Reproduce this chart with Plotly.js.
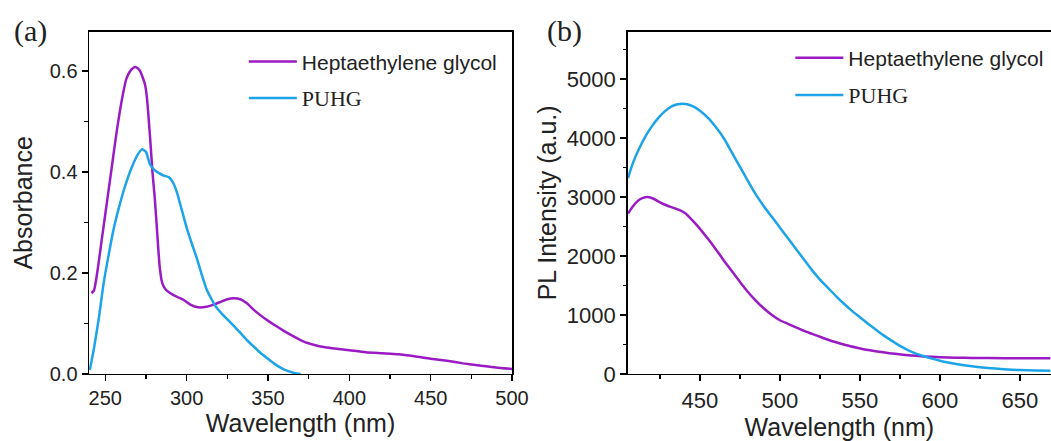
<!DOCTYPE html>
<html>
<head>
<meta charset="utf-8">
<script src="https://cdn.plot.ly/plotly-3.0.1.min.js"></script>
<style>html,body{margin:0;padding:0;background:#fff;}#chart{width:1051px;height:441px;}</style>
</head>
<body>
<div id="chart"></div>
<script>
// ---- Panel (a): UV-vis absorbance ----
const absHgX = [241.5,243,245,248,251,254,257,260,263,266,268.5,271,274.3,275.5,277.5,279,280.5,282,283.5,285,287,290,294,298,302,307,312,317,321,325,329,333,337,342,348,354,360,366,372,378,385,392,400,410,420,430,440,450,460,470,480,490,500];
const absHgY = [0.16,0.165,0.2,0.27,0.34,0.41,0.48,0.54,0.585,0.603,0.608,0.602,0.575,0.55,0.47,0.40,0.345,0.275,0.21,0.18,0.168,0.16,0.153,0.147,0.138,0.132,0.133,0.138,0.143,0.148,0.150,0.148,0.14,0.125,0.110,0.097,0.085,0.074,0.064,0.058,0.053,0.05,0.047,0.043,0.041,0.039,0.035,0.030,0.026,0.021,0.017,0.013,0.010];
const absPuX = [240.5,243,246,249,252,255,258,261,264,267,270,272.5,275,277.5,280,283,286,289,291.5,294,297,300,303,306,309,312,315,318,322,326,330,334,338,342,346,350,354,358,362,366,370];
const absPuY = [0.008,0.05,0.11,0.18,0.235,0.285,0.325,0.36,0.39,0.415,0.435,0.445,0.44,0.415,0.405,0.398,0.393,0.39,0.38,0.36,0.325,0.29,0.26,0.232,0.2,0.17,0.15,0.133,0.118,0.105,0.092,0.078,0.064,0.052,0.04,0.03,0.02,0.012,0.006,0.002,0.0];

// ---- Panel (b): PL intensity ----
const plHgX = [405,408,411,414,417.5,421,425,429,433,437,441,445,450,455,460,465,470,475,480,485,490,495,500,505,510,515,520,527,534,541,548,555,562,570,580,590,600,610,620,640,669];
const plHgY = [2720,2840,2930,2980,3000,2970,2910,2860,2820,2780,2720,2610,2460,2290,2110,1920,1740,1560,1390,1240,1110,1000,910,850,790,730,680,610,545,490,445,405,375,345,318,298,285,276,272,268,266];
const plPuX = [405,408,412,416,420,424,428,432,436,439,442,446,450,455,460,465,470,475,480,485,490,495,500,505,510,515,520,525,530,535,540,545,550,555,560,565,570,575,580,585,590,595,600,605,610,620,630,640,650,660,669];
const plPuY = [3320,3570,3820,4030,4200,4340,4450,4530,4570,4580,4570,4530,4460,4340,4180,3990,3750,3510,3270,3040,2840,2660,2480,2300,2120,1940,1760,1600,1460,1320,1190,1070,960,850,750,650,560,475,405,345,300,260,225,195,170,130,100,80,66,58,55];

const seriesNames = ['Heptaethylene glycol', 'PUHG'];
const panelLabels = ['(a)', '(b)'];

const cHg = '#9a1bc4';
const cPu = '#1ca3e8';
const sans = 'Liberation Sans, Arial, sans-serif';
const serif = 'Liberation Serif, Times New Roman, serif';
const txt = '#222';

const nameHg = seriesNames[0];
const namePu = '<span style="font-family:Liberation Serif, serif;font-size:22px">' + seriesNames[1] + '</span>';

const traces = [
  {x: absHgX, y: absHgY, xaxis: 'x', yaxis: 'y', mode: 'lines', name: nameHg, legendgroup: 'a1', legend: 'legend', line: {color: cHg, width: 2.5, shape: 'spline', smoothing: 0.6}},
  {x: absPuX, y: absPuY, xaxis: 'x', yaxis: 'y', mode: 'lines', name: namePu, legendgroup: 'a2', legend: 'legend', line: {color: cPu, width: 2.5, shape: 'spline', smoothing: 0.6}},
  {x: plHgX, y: plHgY, xaxis: 'x2', yaxis: 'y2', mode: 'lines', name: nameHg, legendgroup: 'b1', legend: 'legend2', line: {color: cHg, width: 2.5, shape: 'spline', smoothing: 0.6}},
  {x: plPuX, y: plPuY, xaxis: 'x2', yaxis: 'y2', mode: 'lines', name: namePu, legendgroup: 'b2', legend: 'legend2', line: {color: cPu, width: 2.5, shape: 'spline', smoothing: 0.6}}
];

function axisBase(fs) {
  return {
    showline: true, linecolor: '#000', linewidth: 1.5, mirror: true,
    ticks: 'outside', ticklen: 6, tickwidth: 1.3, tickcolor: '#000',
    showgrid: false, zeroline: false,
    tickfont: {family: sans, size: fs, color: txt}
  };
}

const layout = {
  width: 1051, height: 441,
  margin: {l: 0, r: 0, t: 0, b: 0},
  paper_bgcolor: '#fff', plot_bgcolor: '#fff',
  showlegend: true,
  xaxis: Object.assign(axisBase(20), {
    domain: [0.0847, 0.4872], range: [240, 500], tick0: 250, dtick: 50,
    minor: {ticks: 'outside', ticklen: 3.5, tickwidth: 1.1, tickcolor: '#000', dtick: 25, tick0: 250},
    title: {text: 'Wavelength (nm)', font: {family: sans, size: 25, color: txt}, standoff: 5},
    anchor: 'y'
  }),
  yaxis: Object.assign(axisBase(20), {
    domain: [0.152, 0.928], range: [0, 0.678], tick0: 0, dtick: 0.2, tickformat: '.1f',
    minor: {ticks: 'outside', ticklen: 3.5, tickwidth: 1.1, tickcolor: '#000', dtick: 0.1},
    title: {text: 'Absorbance', font: {family: sans, size: 25, color: txt}, standoff: 10},
    anchor: 'x'
  }),
  xaxis2: Object.assign(axisBase(22), {
    domain: [0.5972, 1.0], range: [404.8, 669.4], tick0: 450, dtick: 50,
    minor: {ticks: 'outside', ticklen: 3.5, tickwidth: 1.1, tickcolor: '#000', dtick: 25, tick0: 450},
    title: {text: 'Wavelength (nm)', font: {family: sans, size: 25, color: txt}, standoff: 3},
    anchor: 'y2'
  }),
  yaxis2: Object.assign(axisBase(22), {
    domain: [0.152, 0.928], range: [0, 5800], tick0: 0, dtick: 1000,
    minor: {ticks: 'outside', ticklen: 3.5, tickwidth: 1.1, tickcolor: '#000', dtick: 500},
    title: {text: 'PL Intensity (a.u.)', font: {family: sans, size: 25, color: txt}, standoff: 3},
    anchor: 'x2'
  }),
  legend: {
    x: 0.232, y: 0.906, xanchor: 'left', yanchor: 'top',
    bgcolor: 'rgba(0,0,0,0)', borderwidth: 0,
    font: {family: sans, size: 21, color: txt},
    itemwidth: 48, tracegroupgap: 6, traceorder: 'grouped'
  },
  legend2: {
    x: 0.752, y: 0.915, xanchor: 'left', yanchor: 'top',
    bgcolor: 'rgba(0,0,0,0)', borderwidth: 0,
    font: {family: sans, size: 21, color: txt},
    itemwidth: 48, tracegroupgap: 7, traceorder: 'grouped'
  },
  annotations: [
    {text: panelLabels[0], xref: 'paper', yref: 'paper', x: 30/1051, y: 1 - 31/441, xanchor: 'center', yanchor: 'middle', showarrow: false, font: {family: serif, size: 30, color: txt}},
    {text: panelLabels[1], xref: 'paper', yref: 'paper', x: 564/1051, y: 1 - 31/441, xanchor: 'center', yanchor: 'middle', showarrow: false, font: {family: serif, size: 30, color: txt}}
  ]
};

Plotly.newPlot('chart', traces, layout, {displayModeBar: false, staticPlot: true});
</script>
</body>
</html>
